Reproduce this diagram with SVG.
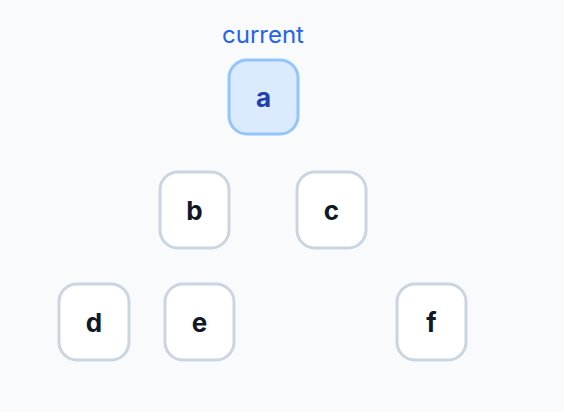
<svg xmlns="http://www.w3.org/2000/svg" width="564" height="412" viewBox="0 0 564 412">
<style>
.node rect{fill:#ffffff;stroke:#cbd5e1;stroke-width:3}
.node text{font-family:Inter,"Noto Sans",sans-serif;font-size:26px;font-weight:700;fill:#111827;text-anchor:middle}
#node-a rect{fill:#dbeafe;stroke:#93c5fd}
#node-a text{fill:#1e40af}
.tag{font-family:Inter,"Noto Sans",sans-serif;font-size:24px;fill:#2563eb;text-anchor:middle}
</style>
<rect width="564" height="412" fill="#f8fafc"/>
<g id="connectors"></g>
<text class="tag" x="263" y="43">current</text>
<g id="node-a" class="node"><rect x="229" y="60" width="69" height="74" rx="18"/><text x="263.5" y="106.5">a</text></g>
<g id="node-b" class="node"><rect x="160" y="172" width="69" height="76" rx="18"/><text x="194.5" y="219.5">b</text></g>
<g id="node-c" class="node"><rect x="297" y="172" width="69" height="76" rx="18"/><text x="331.5" y="219.5">c</text></g>
<g id="node-d" class="node"><rect x="59" y="284" width="70" height="76" rx="18"/><text x="94" y="331.5">d</text></g>
<g id="node-e" class="node"><rect x="165" y="284" width="69" height="76" rx="18"/><text x="199.5" y="331.5">e</text></g>
<g id="node-f" class="node"><rect x="397" y="284" width="69" height="76" rx="18"/><text x="431.5" y="331.5">f</text></g>
</svg>
